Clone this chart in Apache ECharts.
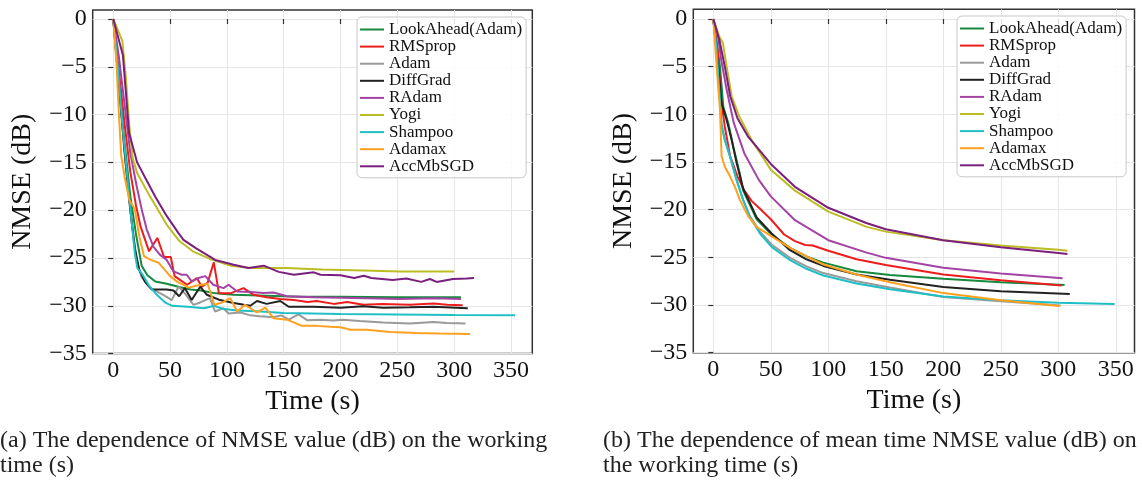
<!DOCTYPE html>
<html>
<head>
<meta charset="utf-8">
<script src="https://cdn.jsdelivr.net/npm/echarts@6/dist/echarts.min.js"></script>
<style>
  html, body { margin: 0; padding: 0; background: #fff; }
  #chart { width: 1142px; height: 485px; }
</style>
</head>
<body>
<div id="chart"></div>
<script>
// optimizer names, in legend order
const names = ['LookAhead(Adam)', 'RMSprop', 'Adam', 'DiffGrad', 'RAdam', 'Yogi', 'Shampoo', 'Adamax', 'AccMbSGD']
const colors = ['#15893d', '#ee1d1d', '#9a9a9a', '#222222', '#a443a4', '#bcbd22', '#1fbfc6', '#ffa01e', '#7a1f7e']

const xTicks = [0, 50, 100, 150, 200, 250, 300, 350]
const yTicks = [-35, -30, -25, -20, -15, -10, -5, 0]

// (a) NMSE vs working time
const aLookAheadT = [0, 5, 10, 15, 20, 25, 30, 37, 47, 59, 68, 77, 88, 106, 135, 165, 200, 250, 306]
const aLookAheadV = [0, -7, -13, -18.5, -22.5, -25.8, -26.8, -27.45, -27.7, -28.05, -28.3, -28.4, -28.65, -28.85, -28.95, -29.05, -29.05, -29.1, -29.1]
const aRmspropT = [0, 5, 10, 15, 20, 24, 31.5, 38.8, 44.7, 50.6, 54, 60, 65, 73.5, 78, 83, 88.5, 93, 103, 114.7, 123.5, 135, 147, 159, 171, 179, 194, 206, 220, 237, 261, 282, 294, 307.5]
const aRmspropV = [0, -5.5, -11, -16, -19.5, -21.7, -24.3, -22.9, -24.9, -24.9, -26.9, -27.4, -27.8, -27.1, -28.0, -27.6, -25.45, -28.7, -28.7, -28.15, -28.85, -29.1, -29.3, -29.4, -29.6, -29.5, -29.8, -29.6, -29.9, -29.8, -29.9, -29.75, -29.9, -29.95]
const aAdamT = [0, 4, 8, 12, 17, 21, 25, 32, 44, 51.5, 57.4, 63, 70.6, 76.5, 85, 89.7, 97, 101.5, 112, 120.6, 129, 141, 148, 154.4, 163, 170.6, 182, 193.5, 202, 217, 237.5, 261, 282, 293.5, 310]
const aAdamV = [0, -5.5, -11, -16.5, -22, -25.5, -27.0, -28.1, -28.85, -29.4, -28.0, -28.7, -29.9, -29.65, -29.2, -30.6, -30.25, -30.8, -30.7, -31.0, -31.1, -31.2, -31.0, -31.45, -30.9, -31.5, -31.45, -31.55, -31.45, -31.6, -31.75, -31.85, -31.7, -31.8, -31.85]
const aDiffGradT = [0, 5, 10, 15, 19, 23, 28, 34, 40, 47, 53, 58, 63, 69, 76.5, 82.4, 94, 106, 115, 120.6, 126.5, 135, 147, 154.4, 176.5, 200, 220, 237.5, 261, 282, 312]
const aDiffGradV = [0, -7, -14, -20, -24, -26.3, -27.5, -28.3, -28.3, -28.3, -28.4, -29.0, -28.15, -29.4, -28.0, -28.85, -29.4, -29.7, -29.9, -30.0, -29.5, -29.8, -29.5, -30.1, -30.1, -30.2, -30.05, -30.2, -30.15, -30.1, -30.25]
const aRadamT = [0, 5, 10, 15, 20.6, 25, 29.4, 35.3, 41, 47, 53, 60.3, 64.7, 69, 75, 81, 88, 97, 101.5, 109, 120.6, 132.4, 141, 153, 176.5, 200, 223, 252, 282, 306]
const aRadamV = [0, -4, -9, -14, -17.5, -19.9, -22.0, -23.8, -24.65, -25.2, -26.4, -26.75, -26.75, -27.45, -27.1, -26.9, -27.8, -28.15, -27.8, -28.5, -28.55, -28.65, -28.6, -29.0, -29.1, -29.15, -29.2, -29.3, -29.2, -29.3]
const aYogiT = [0, 8, 11, 14, 17, 21, 32, 47, 58, 70, 85, 103, 120.5, 152, 183.6, 220, 252, 300]
const aYogiV = [0, -2.3, -6, -11, -14.5, -16.1, -18.5, -21.5, -23.2, -24.3, -25.1, -25.8, -26.05, -26.05, -26.2, -26.3, -26.4, -26.4]
const aShampooT = [0, 4, 8, 12, 16, 19, 21.2, 25.6, 31.5, 38.8, 46.2, 52, 65.3, 80, 88.8, 96, 109, 130, 150, 175, 200, 250, 300, 353.6]
const aShampooV = [0, -5, -11, -16, -21, -24.5, -26.05, -26.7, -27.9, -28.9, -29.7, -30.0, -30.1, -30.25, -30.0, -30.3, -30.5, -30.6, -30.75, -30.8, -30.85, -30.9, -30.95, -31.0]
const aAdamaxT = [0, 3, 5, 7, 10, 14, 19, 23, 27, 33, 40, 45, 50, 56.5, 66.8, 72.6, 83, 89, 97, 103, 109, 116, 126.5, 133.8, 141, 153, 166, 179, 191, 200, 209, 223, 243.5, 267, 287.5, 314]
const aAdamaxV = [0, -5, -10, -14.3, -16.5, -18.9, -19.9, -22.8, -24.8, -25.2, -25.5, -26.2, -26.9, -27.5, -28.1, -27.9, -27.7, -29.9, -29.6, -29.2, -30.6, -29.9, -30.7, -30.2, -31.3, -31.45, -32.1, -32.1, -32.2, -32.25, -32.5, -32.5, -32.75, -32.85, -32.9, -32.95]
const aAccMbT = [0, 8.5, 13.9, 21, 29.4, 37, 47, 57.4, 61.8, 73, 89.7, 106, 119, 132.4, 145.6, 159, 176.5, 182.4, 200, 212, 220.6, 227, 246, 258, 271, 278.7, 284.6, 299, 311, 317.5]
const aAccMbV = [0, -3.8, -11.9, -15.0, -16.9, -18.6, -20.6, -22.4, -23.1, -24.0, -25.2, -25.7, -26.05, -25.8, -26.45, -26.75, -26.5, -26.75, -26.8, -27.1, -26.85, -27.1, -27.3, -27.15, -27.5, -27.2, -27.5, -27.2, -27.15, -27.1]

// (b) mean time NMSE vs working time
const bLookAheadT = [0, 5.8, 8.7, 13, 17.4, 23, 26, 37.7, 50.7, 66.7, 81, 95.7, 124.6, 153.6, 200, 250, 305.5]
const bLookAheadV = [0, -5, -9.2, -10.9, -13.4, -16.2, -18.0, -21.0, -22.6, -24.0, -24.9, -25.55, -26.45, -26.85, -27.25, -27.6, -27.9]
const bRmspropT = [0, 3.75, 6.9, 10, 14.7, 21, 27, 33.4, 39.7, 50, 61.6, 71, 80, 86.5, 100, 124.6, 150, 200, 250, 303]
const bRmspropV = [0, -3.25, -8.5, -11.3, -14.4, -16.5, -18.0, -19.1, -19.8, -21.0, -22.6, -23.3, -23.7, -23.75, -24.3, -25.2, -25.8, -26.8, -27.4, -27.95]
const bAdamT = [0, 2.9, 5.2, 7.2, 10, 14.5, 20.3, 26, 31.9, 40.6, 50.7, 66.7, 81, 95.7, 124.6, 153.6, 200, 250, 302]
const bAdamV = [0, -3.3, -7.5, -11.0, -12.6, -14.4, -16.9, -19.0, -20.7, -22.3, -23.65, -25.05, -25.95, -26.65, -27.5, -28.15, -29.15, -29.6, -30.05]
const bDiffGradT = [0, 4.3, 7.2, 11.6, 16, 20.3, 26, 37.7, 50.7, 66.7, 81, 95.7, 124.6, 153.6, 200, 250, 310]
const bDiffGradV = [0, -5.0, -8.85, -10.6, -12.7, -15.1, -17.8, -20.8, -22.5, -24.25, -25.2, -25.9, -26.8, -27.35, -28.1, -28.55, -28.85]
const bRadamT = [0, 3.75, 6.9, 11.6, 17.8, 27, 39.7, 50, 71, 100, 133.4, 150, 200, 250, 303.8]
const bRadamV = [0, -1.5, -4.3, -7.4, -10.9, -14.1, -16.9, -18.6, -21.1, -23.2, -24.5, -25.05, -26.1, -26.7, -27.2]
const bYogiT = [0, 5.3, 8.4, 11.6, 16, 22.5, 33.4, 50, 71, 100, 133.4, 150, 200, 250, 300, 308]
const bYogiV = [0, -1.85, -2.55, -5.0, -8.1, -10.2, -12.7, -15.8, -18.0, -20.2, -21.8, -22.3, -23.2, -23.75, -24.2, -24.3]
const bShampooT = [0, 2.9, 5.2, 7.2, 10, 14.5, 20.3, 26, 31.9, 40.6, 50.7, 66.7, 81, 95.7, 124.6, 153.6, 200, 250, 300, 349]
const bShampooV = [0, -3.25, -7.45, -11.3, -12.7, -14.45, -16.9, -19.0, -20.8, -22.5, -23.9, -25.3, -26.2, -26.9, -27.75, -28.35, -29.1, -29.5, -29.75, -29.9]
const bAdamaxT = [0, 2.9, 5.8, 7.2, 10, 14.5, 18.8, 23.2, 30.4, 37.7, 50.7, 66.7, 81, 95.7, 124.6, 153.6, 200, 250, 301]
const bAdamaxV = [0, -5.0, -9.5, -14.4, -15.5, -16.5, -17.6, -19.0, -20.7, -21.8, -22.8, -24.0, -24.9, -25.75, -26.8, -27.6, -28.75, -29.5, -30.1]
const bAccMbT = [0, 5.3, 10, 14.7, 21, 30, 39.7, 50, 71, 100, 133, 150, 200, 250, 300, 308]
const bAccMbV = [0, -2.2, -5.0, -8.1, -10.4, -12.3, -13.7, -15.2, -17.6, -19.8, -21.4, -22.05, -23.2, -23.95, -24.55, -24.65]

const captionA = '(a) The dependence of NMSE value (dB) on the working\ntime (s)'
const captionB = '(b) The dependence of mean time NMSE value (dB) on\nthe working time (s)'

const FONT = 'Liberation Serif'
const onTick = (v, ticks) => ticks.some(t => Math.abs(t - v) < 1e-6)
const fmtX = v => (onTick(v, xTicks) ? String(v) : '')
const fmtY = v => (onTick(v, yTicks) ? (v < 0 ? '\u2212' + Math.abs(v) : String(v)) : '')

function makeSeries(t, v, idx, axis) {
  return {
    name: names[idx],
    type: 'line',
    xAxisIndex: axis,
    yAxisIndex: axis,
    data: t.map((x, i) => [x, v[i]]),
    symbol: 'none',
    lineStyle: { width: 2, color: colors[idx] },
    itemStyle: { color: colors[idx] }
  }
}

const tickLabelStyle = { fontFamily: FONT, fontSize: 24, color: '#111' }

function xAxisOf(grid, min, max) {
  return {
    type: 'value', gridIndex: grid, min, max,
    minInterval: 50, maxInterval: 50, splitNumber: 8,
    axisLine: { show: false },
    axisTick: { show: true, customValues: xTicks, length: 5, lineStyle: { color: '#333', width: 1.2 } },
    axisLabel: { formatter: fmtX, margin: 5, ...tickLabelStyle, textStyle: tickLabelStyle },
    splitLine: { show: true, lineStyle: { color: '#e6e6e6', width: 1 } },
    name: 'Time (s)', nameLocation: 'middle', nameGap: 33,
    nameTextStyle: { fontFamily: FONT, fontSize: 28, color: '#111' }
  }
}

function yAxisOf(grid, max) {
  return {
    type: 'value', gridIndex: grid, min: -35, max, interval: 5,
    axisLine: { show: false },
    axisTick: { show: true, customValues: yTicks, length: 5, lineStyle: { color: '#333', width: 1.2 } },
    axisLabel: { formatter: fmtY, margin: 6, ...tickLabelStyle, textStyle: tickLabelStyle },
    splitLine: { show: true, lineStyle: { color: '#e6e6e6', width: 1 } },
    name: 'NMSE (dB)', nameLocation: 'middle', nameGap: 56,
    nameTextStyle: { fontFamily: FONT, fontSize: 28, color: '#111' }
  }
}

function legendAt(left, top) {
  return {
    data: names, orient: 'vertical', left, top,
    icon: 'rect', itemWidth: 24, itemHeight: 2, itemGap: 0.1,
    padding: [4, 4, 3, 3],
    borderColor: '#c8c8c8', borderWidth: 1, borderRadius: 5,
    backgroundColor: 'rgba(255,255,255,0.85)',
    textStyle: { fontFamily: FONT, fontSize: 17, lineHeight: 16, color: '#111' }
  }
}

const chart = echarts.init(document.getElementById('chart'))
chart.setOption({
  animation: false,
  backgroundColor: '#fff',
  textStyle: { fontFamily: FONT, color: '#111' },
  title: [
    { text: captionA, left: 0, top: 428, padding: 0,
      textStyle: { fontFamily: FONT, fontSize: 24, lineHeight: 25, fontWeight: 'normal', color: '#222' } },
    { text: captionB, left: 603, top: 428, padding: 0,
      textStyle: { fontFamily: FONT, fontSize: 24, lineHeight: 25, fontWeight: 'normal', color: '#222' } }
  ],
  grid: [
    { left: 92.7, top: 10, width: 439.6, height: 343.6, show: true, borderColor: '#333', borderWidth: 1.5, containLabel: false },
    { left: 693.3, top: 9.3, width: 441.2, height: 343.4, show: true, borderColor: '#333', borderWidth: 1.5, containLabel: false }
  ],
  xAxis: [xAxisOf(0, -18.1, 368.8), xAxisOf(1, -17.4, 366.3)],
  yAxis: [yAxisOf(0, 0.94), yAxisOf(1, 1.02)],
  legend: [legendAt(357, 17), legendAt(957, 16)],
  series: [
    makeSeries(aLookAheadT, aLookAheadV, 0, 0),
    makeSeries(aRmspropT, aRmspropV, 1, 0),
    makeSeries(aAdamT, aAdamV, 2, 0),
    makeSeries(aDiffGradT, aDiffGradV, 3, 0),
    makeSeries(aRadamT, aRadamV, 4, 0),
    makeSeries(aYogiT, aYogiV, 5, 0),
    makeSeries(aShampooT, aShampooV, 6, 0),
    makeSeries(aAdamaxT, aAdamaxV, 7, 0),
    makeSeries(aAccMbT, aAccMbV, 8, 0),
    makeSeries(bLookAheadT, bLookAheadV, 0, 1),
    makeSeries(bRmspropT, bRmspropV, 1, 1),
    makeSeries(bAdamT, bAdamV, 2, 1),
    makeSeries(bDiffGradT, bDiffGradV, 3, 1),
    makeSeries(bRadamT, bRadamV, 4, 1),
    makeSeries(bYogiT, bYogiV, 5, 1),
    makeSeries(bShampooT, bShampooV, 6, 1),
    makeSeries(bAdamaxT, bAdamaxV, 7, 1),
    makeSeries(bAccMbT, bAccMbV, 8, 1)
  ]
})
</script>
</body>
</html>
